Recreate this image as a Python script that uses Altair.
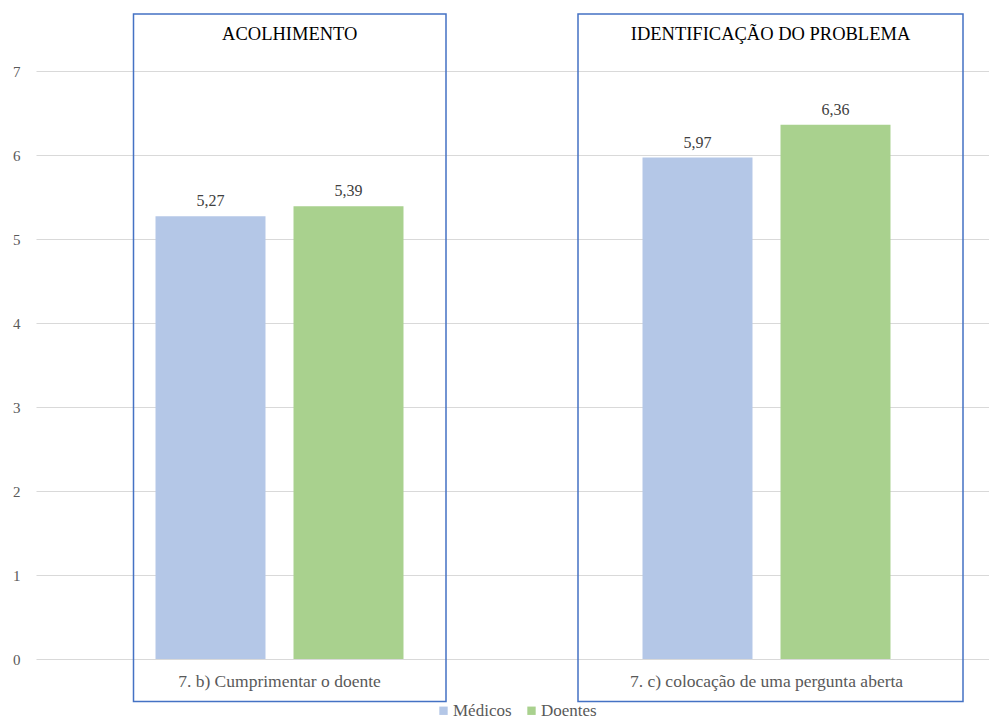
import altair as alt
import pandas as pd

categories = ["7. b) Cumprimentar o doente", "7. c) colocação de uma pergunta aberta"]
box_titles = ["ACOLHIMENTO", "IDENTIFICAÇÃO DO PROBLEMA"]
series = ["Médicos", "Doentes"]
medicos = [5.27, 5.97]
doentes = [5.39, 6.36]
colors = ["#B4C7E7", "#A9D18E"]

rows = []
for i, c in enumerate(categories):
    rows.append({"categoria": c, "serie": series[0], "valor": medicos[i]})
    rows.append({"categoria": c, "serie": series[1], "valor": doentes[i]})
df = pd.DataFrame(rows)
df["rotulo"] = df["valor"].map(lambda v: f"{v:.2f}".replace(".", ","))

FONT = "Liberation Serif, Times New Roman, serif"

x_enc = alt.X("categoria:N", sort=categories, title=None,
              scale=alt.Scale(range=[0, 974], paddingInner=0, paddingOuter=0),
              axis=alt.Axis(labelFont=FONT, labelFontSize=17.5, labelColor="#595959",
                            labelAngle=0, labelPadding=13, tickSize=0, ticks=False,
                            domain=False, grid=False, labelLimit=0))
xoff = alt.XOffset("serie:N", sort=series,
                   scale=alt.Scale(paddingInner=0.203, paddingOuter=0.866))
y_enc = alt.Y("valor:Q", title=None,
              scale=alt.Scale(domain=[0, 7], nice=False),
              axis=alt.Axis(values=[0, 1, 2, 3, 4, 5, 6, 7], format="d", labelFont=FONT,
                            labelFontSize=15, labelColor="#595959", labelPadding=16,
                            ticks=False, tickSize=0, domain=False, grid=True,
                            gridColor="#D9D9D9", gridWidth=1))

bars = alt.Chart(df).mark_bar().encode(
    x=x_enc, xOffset=xoff, y=y_enc,
    color=alt.Color("serie:N", sort=series,
                    scale=alt.Scale(domain=series, range=colors),
                    legend=alt.Legend(title=None, orient="none", direction="horizontal",
                                      legendX=399, legendY=631, symbolType="square",
                                      symbolSize=70, symbolStrokeWidth=0,
                                      labelFont=FONT, labelFontSize=17,
                                      labelColor="#595959", labelOffset=1,
                                      columnPadding=11, padding=0)),
)

labels = alt.Chart(df).mark_text(font=FONT, fontSize=16, color="#404040",
                                 baseline="alphabetic", dy=-10).encode(
    x=alt.X("categoria:N", sort=categories), xOffset=xoff,
    y="valor:Q", text="rotulo:N")

box_x = [(97.5, 410), (542, 927)]
layers = [bars, labels]
for (x0, x1), t in zip(box_x, box_titles):
    one = alt.Data(values=[{"t": t}])
    layers.append(alt.Chart(one).mark_rect(fillOpacity=0, stroke="#4472C4",
                                           strokeWidth=1.5).encode(
        x=alt.value(x0), x2=alt.value(x1), y=alt.value(-57), y2=alt.value(630.5)))
    layers.append(alt.Chart(one).mark_text(font=FONT, fontSize=18.5, color="#000000",
                                           baseline="alphabetic").encode(
        x=alt.value((x0 + x1) / 2), y=alt.value(-31.5), text="t:N"))

chart = alt.layer(*layers).properties(
    width=953, height=588,
    autosize=alt.AutoSizeParams(type="none"),
    padding={"left": 28, "top": 63, "right": 0, "bottom": 66},
).configure_view(stroke=None)

chart.save("out.html", embed_options={"renderer": "svg", "actions": False})
